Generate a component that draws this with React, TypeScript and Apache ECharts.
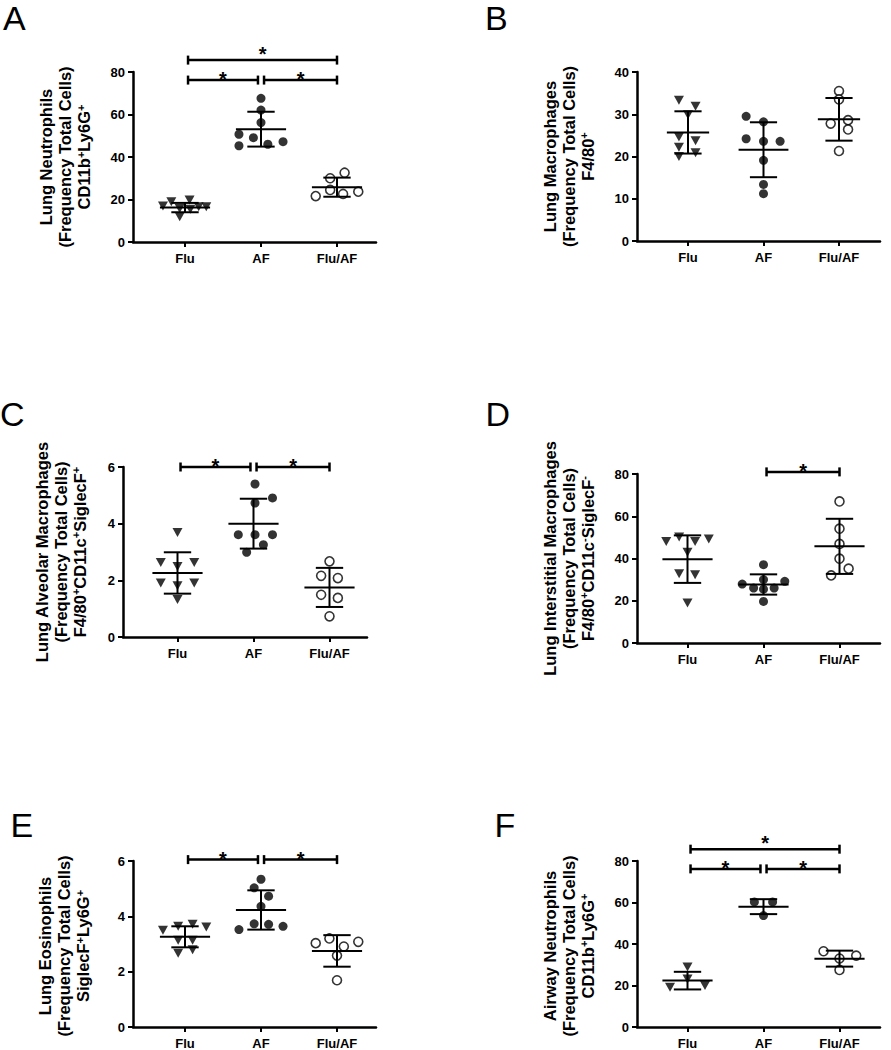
import React, { useEffect, useRef } from 'react';
import * as echarts from 'echarts';

const categories = ['Flu', 'AF', 'Flu/AF'];

// ---------- Panel A: Lung Neutrophils ----------
const aFlu = [16.9, 19.0, 15.8, 11.9, 19.8, 15.4, 16.6, 16.6];
const aFluX = [-0.29, -0.18, -0.07, -0.07, 0.06, 0.07, 0.18, 0.28];
const aAF = [67.6, 62.1, 56.2, 50.7, 49.1, 47.2, 46.0, 45.3];
const aAFX = [0, 0, 0, -0.29, -0.1, 0.29, 0.09, -0.29];
const aFluAF = [21.6, 30.0, 24.5, 32.6, 22.6, 23.7];
const aFluAFX = [-0.28, -0.09, -0.09, 0.1, 0.08, 0.28];
const aMean = [16.2, 53.1, 25.8];
const aSD = [2.2, 8.2, 4.5];
const aSig = [[0, 1, 76.2], [1, 2, 76.2], [0, 2, 85.6]];

// ---------- Panel B: Lung Macrophages ----------
const bFlu = [33.3, 31.9, 29.9, 24.6, 23.7, 22.2, 20.9, 20.0];
const bFluX = [-0.12, 0.1, 0, -0.12, 0.1, -0.12, 0.1, -0.12];
const bAF = [29.5, 28.2, 24.2, 23.6, 23.6, 19.1, 13.4, 11.2];
const bAFX = [-0.23, 0, -0.23, 0, 0.22, 0, 0, 0];
const bFluAF = [35.5, 33.5, 28.6, 27.8, 26.4, 21.3];
const bFluAFX = [0, 0, 0.12, -0.11, 0.12, 0];
const bMean = [25.7, 21.6, 28.8];
const bSD = [5.0, 6.5, 5.05];
const bSig: number[][] = [];

// ---------- Panel C: Lung Alveolar Macrophages ----------
const cFlu = [3.69, 2.63, 2.49, 2.63, 1.91, 1.81, 1.91, 1.32];
const cFluX = [0, -0.22, 0, 0.22, -0.22, 0, 0.22, 0];
const cAF = [5.40, 4.91, 4.73, 3.61, 3.61, 3.61, 3.26, 2.99];
const cAFX = [0.02, 0.25, 0.02, -0.2, 0.02, 0.25, 0.13, -0.09];
const cFluAF = [2.67, 2.16, 2.08, 1.49, 1.38, 0.73];
const cFluAFX = [0, -0.11, 0.11, -0.11, 0.11, 0];
const cMean = [2.26, 4.0, 1.75];
const cSD = [0.73, 0.88, 0.69];
const cSig = [[0, 1, 6.0], [1, 2, 6.0]];

// ---------- Panel D: Lung Interstitial Macrophages ----------
const dFlu = [48.1, 50.2, 42.9, 48.1, 49.2, 32.8, 32.3, 18.9];
const dFluX = [-0.28, -0.11, 0, 0.1, 0.28, -0.11, 0.1, 0];
const dAF = [37.1, 27.9, 30.0, 29.2, 26.0, 26.0, 25.5, 19.7];
const dAFX = [0, -0.28, 0, 0.28, -0.13, 0.14, 0, 0];
const dFluAF = [67.0, 54.1, 46.9, 39.9, 35.2, 32.0];
const dFluAFX = [0, 0, 0, 0, 0.12, -0.11];
const dMean = [39.7, 27.7, 45.75];
const dSD = [11.25, 4.8, 13.05];
const dSig = [[1, 2, 81]];

// ---------- Panel E: Lung Eosinophils ----------
const eFlu = [3.50, 3.64, 3.71, 3.61, 3.14, 3.14, 2.67, 2.79];
const eFluX = [-0.29, -0.09, 0.1, 0.28, -0.09, 0.1, -0.09, 0.1];
const eAF = [5.34, 5.03, 4.73, 4.36, 3.52, 3.73, 3.71, 3.64];
const eAFX = [0, -0.09, 0.1, 0, -0.29, -0.09, 0.1, 0.29];
const eFluAF = [3.03, 3.20, 2.91, 3.08, 2.58, 1.69];
const eFluAFX = [-0.28, -0.1, 0.09, 0.28, 0, 0];
const eMean = [3.26, 4.23, 2.75];
const eSD = [0.38, 0.71, 0.57];
const eSig = [[0, 1, 6.05], [1, 2, 6.05]];

// ---------- Panel F: Airway Neutrophils ----------
const fFlu = [28.9, 23.1, 19.2, 20.0];
const fFluX = [0, 0, -0.23, 0.23];
const fAF = [60.3, 60.3, 53.7];
const fAFX = [-0.12, 0.12, 0];
const fFluAF = [36.5, 34.4, 33.0, 27.5];
const fFluAFX = [-0.21, 0.22, 0, 0];
const fMean = [22.35, 58.0, 32.95];
const fSD = [4.25, 3.6, 3.85];
const fSig = [[0, 1, 76.2], [1, 2, 76.2], [0, 2, 85.7]];

// y-axis tick settings
const yMax = [80, 40, 6, 80, 6, 80];
const yStep = [20, 10, 2, 20, 2, 20];

// axis titles
const titles = [
  ['Lung Neutrophils', '(Frequency Total Cells)', '{n|CD11b}{s|+}{n|Ly6G}{s|+}'],
  ['Lung Macrophages', '(Frequency Total Cells)', '{n|F4/80}{s|+}'],
  ['Lung Alveolar Macrophages', '(Frequency Total Cells)', '{n|F4/80}{s|+}{n|CD11c}{s|+}{n|SiglecF}{s|+}'],
  ['Lung Interstitial Macrophages', '(Frequency Total Cells)', '{n|F4/80}{s|+}{n|CD11c}{s|-}{n|SiglecF}{s|-}'],
  ['Lung Eosinophils', '(Frequency Total Cells)', '{n|SiglecF}{s|+}{n|Ly6G}{s|+}'],
  ['Airway Neutrophils', '(Frequency Total Cells)', '{n|CD11b}{s|+}{n|Ly6G}{s|+}'],
];
const letters = ['A', 'B', 'C', 'D', 'E', 'F'];

const FONT = '"Liberation Sans", Arial, Helvetica, sans-serif';

// layout (pixels)
const layout = [
  { axisX: 133, top: 72, bottom: 242, xEnd: 376, cat0: 185, step: 76, lx: 3, ly: 17.5, tx: 65, meanHalf: [0.33, 0.33, 0.33] },
  { axisX: 637, top: 72, bottom: 241, xEnd: 880, cat0: 688, step: 75.5, lx: 485, ly: 18, tx: 568.5, meanHalf: [0.28, 0.33, 0.28] },
  { axisX: 123, top: 467, bottom: 637, xEnd: 367, cat0: 177.5, step: 76, lx: 0, ly: 414, tx: 60.5, meanHalf: [0.33, 0.33, 0.33] },
  { axisX: 637, top: 474, bottom: 643, xEnd: 880, cat0: 687.5, step: 76, lx: 485.5, ly: 414, tx: 568.5, meanHalf: [0.33, 0.33, 0.33] },
  { axisX: 133, top: 861, bottom: 1031, xEnd: 376, cat0: 185, step: 76, lx: 10.5, ly: 825, tx: 64, meanHalf: [0.33, 0.33, 0.33] },
  { axisX: 637, top: 861, bottom: 1031, xEnd: 880, cat0: 687.5, step: 76, lx: 494.5, ly: 825, tx: 568.5, meanHalf: [0.33, 0.33, 0.33] },
];

const groupsY = [
  [aFlu, aAF, aFluAF], [bFlu, bAF, bFluAF], [cFlu, cAF, cFluAF],
  [dFlu, dAF, dFluAF], [eFlu, eAF, eFluAF], [fFlu, fAF, fFluAF],
];
const groupsX = [
  [aFluX, aAFX, aFluAFX], [bFluX, bAFX, bFluAFX], [cFluX, cAFX, cFluAFX],
  [dFluX, dAFX, dFluAFX], [eFluX, eAFX, eFluAFX], [fFluX, fAFX, fFluAFX],
];
const means = [aMean, bMean, cMean, dMean, eMean, fMean];
const sds = [aSD, bSD, cSD, dSD, eSD, fSD];
const sigs = [aSig, bSig, cSig, dSig, eSig, fSig];

const symbolStyles = [
  { symbol: 'triangle', symbolSize: [10, 9], symbolRotate: 180, itemStyle: { color: '#000' } },
  { symbol: 'circle', symbolSize: 9, symbolRotate: 0, itemStyle: { color: '#000' } },
  { symbol: 'circle', symbolSize: 9, symbolRotate: 0, itemStyle: { color: '#fff', borderColor: '#000', borderWidth: 1.6 } },
];

function buildOption() {
  const grid: any[] = [];
  const xAxis: any[] = [];
  const yAxis: any[] = [];
  const series: any[] = [];
  const graphic: any[] = [];

  layout.forEach((p, i) => {
    grid.push({ left: p.axisX, top: p.top, width: p.xEnd - p.axisX, height: p.bottom - p.top, containLabel: false });
    xAxis.push({
      gridIndex: i, type: 'value',
      min: (p.axisX - p.cat0) / p.step, max: (p.xEnd - p.cat0) / p.step,
      splitLine: { show: false },
      axisLine: { show: true, onZero: false, lineStyle: { color: '#000', width: 2.5 } },
      axisTick: { show: true, customValues: [0, 1, 2], length: 5, lineStyle: { color: '#000', width: 2 } },
      axisLabel: {
        show: true, customValues: [0, 1, 2], margin: 10,
        formatter: (v: number) => categories[Math.round(v)] ?? '',
        color: '#000', fontWeight: 'bold', fontSize: 13, fontFamily: FONT,
      },
    });
    yAxis.push({
      gridIndex: i, type: 'value', min: 0, max: yMax[i], interval: yStep[i],
      splitLine: { show: false },
      axisLine: { show: true, onZero: false, lineStyle: { color: '#000', width: 2.5 } },
      axisTick: { show: true, length: 5, lineStyle: { color: '#000', width: 2 } },
      axisLabel: { color: '#000', fontWeight: 'bold', fontSize: 13, fontFamily: FONT, margin: 8 },
    });

    // scatter points
    for (let g = 0; g < 3; g++) {
      const ys = groupsY[i][g];
      const xs = groupsX[i][g];
      const st = symbolStyles[g];
      series.push({
        type: 'scatter', xAxisIndex: i, yAxisIndex: i, silent: true, z: 2,
        symbol: st.symbol, symbolSize: st.symbolSize, symbolRotate: st.symbolRotate,
        itemStyle: st.itemStyle,
        data: ys.map((v, k) => [g + xs[k], v]),
      });
    }

    // mean +/- SD
    series.push({
      type: 'custom', xAxisIndex: i, yAxisIndex: i, silent: true, z: 3, clip: false,
      encode: { x: 0, y: 1 },
      data: means[i].map((m, g) => [g, m, sds[i][g], p.meanHalf[g]]),
      renderItem: (params: any, api: any) => {
        const x = api.value(0), m = api.value(1), s = api.value(2), half = api.value(3);
        const c = api.coord([x, m]);
        const t = api.coord([x, m + s]);
        const b = api.coord([x, m - s]);
        const hw = api.size([half, 0])[0];
        const cw = api.size([0.18, 0])[0];
        const ls = { stroke: '#000', lineWidth: 2 };
        return {
          type: 'group',
          children: [
            { type: 'line', shape: { x1: c[0], y1: t[1], x2: c[0], y2: b[1] }, style: ls },
            { type: 'line', shape: { x1: c[0] - hw, y1: c[1], x2: c[0] + hw, y2: c[1] }, style: ls },
            { type: 'line', shape: { x1: c[0] - cw, y1: t[1], x2: c[0] + cw, y2: t[1] }, style: ls },
            { type: 'line', shape: { x1: c[0] - cw, y1: b[1], x2: c[0] + cw, y2: b[1] }, style: ls },
          ],
        };
      },
    });

    // significance brackets
    if (sigs[i].length) {
      const sg = sigs[i];
      series.push({
        type: 'custom', xAxisIndex: i, yAxisIndex: i, silent: true, z: 3, clip: false,
        encode: { x: [0, 1], y: 2 },
        data: sg.map(([from, to, y]) => {
          const sharedEnd = sg.some((o) => o[0] === to && o[2] === y);
          return [from + 0.04, to - (sharedEnd ? 0.04 : 0), y, to - from >= 2 ? 1 : 0];
        }),
        renderItem: (params: any, api: any) => {
          const x1 = api.value(0), x2 = api.value(1), y = api.value(2), big = api.value(3);
          const p1 = api.coord([x1, y]);
          const p2 = api.coord([x2, y]);
          const cap = 4.5;
          const ls = { stroke: '#000', lineWidth: 2.5 };
          const starCenter = p1[1] - (big ? 11 : 5.3);
          return {
            type: 'group',
            children: [
              { type: 'line', shape: { x1: p1[0], y1: p1[1], x2: p2[0], y2: p2[1] }, style: ls },
              { type: 'line', shape: { x1: p1[0], y1: p1[1] - cap, x2: p1[0], y2: p1[1] + cap }, style: ls },
              { type: 'line', shape: { x1: p2[0], y1: p2[1] - cap, x2: p2[0], y2: p2[1] + cap }, style: ls },
              {
                type: 'text', x: (p1[0] + p2[0]) / 2, y: starCenter + 0.23 * 20,
                style: { text: '*', fill: '#000', font: `bold 20px ${FONT}`, align: 'center', verticalAlign: 'middle' },
              },
            ],
          };
        },
      });
    }

    // panel letter
    graphic.push({
      type: 'text', x: p.lx, y: p.ly, silent: true,
      style: { text: letters[i], fill: '#000', font: `34px ${FONT}`, lineHeight: 26, verticalAlign: 'middle', align: 'left' },
    });

    // y-axis title (3 rotated lines)
    const midY = (p.top + p.bottom) / 2;
    titles[i].forEach((line, k) => {
      graphic.push({
        type: 'text', x: p.tx + (k - 1) * 19, y: midY, rotation: Math.PI / 2, silent: true,
        style: {
          text: line, fill: '#000', font: `bold 16.5px ${FONT}`, align: 'center', verticalAlign: 'middle',
          rich: {
            n: { fontSize: 16.5, fontWeight: 'bold', fontFamily: FONT, fill: '#000', lineHeight: 18 },
            s: { fontSize: 11, fontWeight: 'bold', fontFamily: FONT, fill: '#000', verticalAlign: 'top', lineHeight: 18 },
          },
        },
      });
    });
  });

  return { animation: false, backgroundColor: '#fff', grid, xAxis, yAxis, series, graphic };
}

export default function App() {
  const ref = useRef<HTMLDivElement>(null);
  useEffect(() => {
    if (!ref.current) return;
    const chart = echarts.init(ref.current, undefined, { renderer: 'svg' });
    chart.setOption(buildOption() as any);
    return () => chart.dispose();
  }, []);
  return <div ref={ref} style={{ position: 'absolute', left: 0, top: 0, width: 891, height: 1050, background: '#fff' }} />;
}
